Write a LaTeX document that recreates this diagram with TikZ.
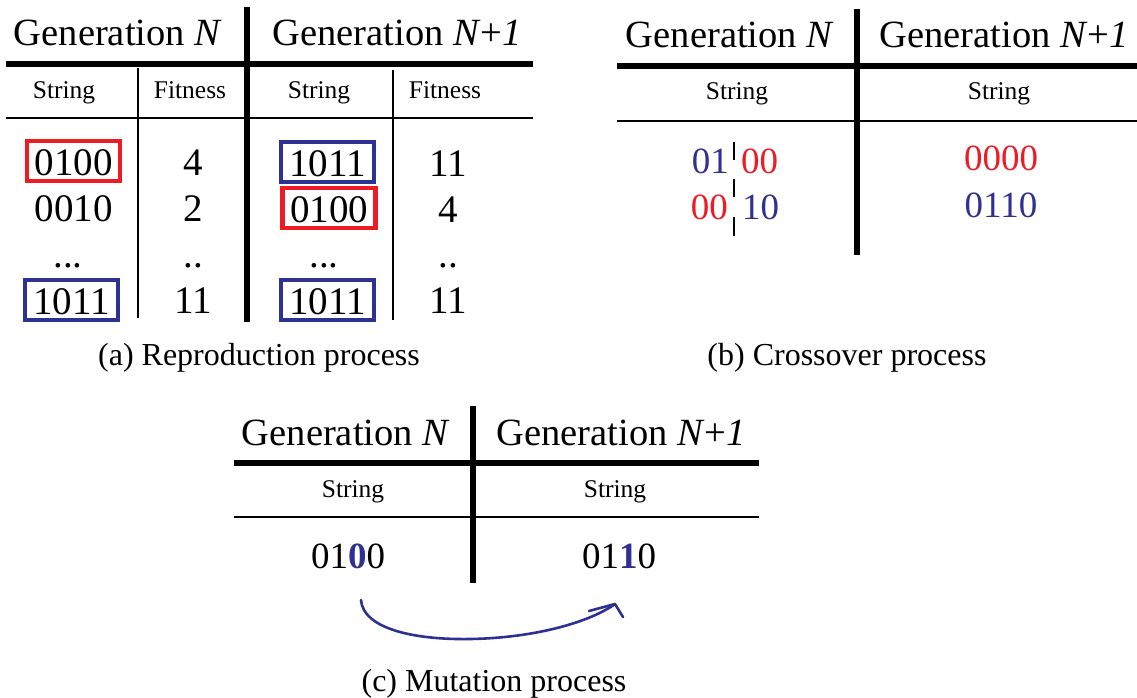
\documentclass[tikz,border=0pt]{standalone}
\usepackage{fontspec}
\setmainfont{Liberation Serif}
\definecolor{gared}{HTML}{ED1C24}
\definecolor{gablue}{HTML}{2E3192}
\newcommand{\genN}{Generation \textit{N}}
\newcommand{\genNp}{Generation \textit{N}+\textit{1}}
\begin{document}
\begin{tikzpicture}[x=1pt,y=-1pt,
  every node/.style={inner sep=0pt, anchor=base},
  hdr/.style={font=\fontsize{38.5}{40}\selectfont},
  colhead/.style={font=\fontsize{25.5}{27}\selectfont},
  bigval/.style={font=\fontsize{39}{40}\selectfont},
  val/.style={font=\fontsize{37}{38}\selectfont},
  caption/.style={font=\fontsize{32}{34}\selectfont},
  heavyrule/.style={line width=6pt},
  lightrule/.style={line width=2.6pt},
  cutmark/.style={line width=1.8pt},
  markbox/.style={draw, line width=4.5pt, minimum width=93pt, text height=28pt,
                  text depth=0pt, inner ysep=6pt, inner xsep=0pt},
  redbox/.style={markbox, draw=gared},
  bluebox/.style={markbox, draw=gablue},
  mutarrow/.style={draw=gablue, line width=2.6pt, line cap=round, line join=round},
]
\path[use as bounding box] (0,0) rectangle (1137,698);

% ---------------- (a) reproduction ----------------
\draw[heavyrule] (6,64) -- (533,64);
\draw[lightrule] (6,118) -- (533,118);
\draw[heavyrule] (246.5,7) -- (246.5,322);
\draw[lightrule] (138,68) -- (138,318);
\draw[lightrule] (393,70) -- (393,320);

\node[hdr] (aH1) at (118,46) {\genN};
\node[hdr] (aH2) at (397,46) {\genNp};
\node[colhead] (aS1) at (64,99) {String};
\node[colhead] (aF1) at (190,99) {Fitness};
\node[colhead] (aS2) at (319,99) {String};
\node[colhead] (aF2) at (445,99) {Fitness};

\node[bigval, redbox]  (aL1) at (73.5,175) {0100};
\node[bigval]          (aL2) at (73.5,221) {0010};
\node[bigval]          (aL3) at (68,267) {...};
\node[bigval, bluebox] (aL4) at (71.5,314) {1011};
\node[bigval] (aFL1) at (193,175) {4};
\node[bigval] (aFL2) at (193,221) {2};
\node[bigval] (aFL3) at (193,267) {..};
\node[bigval] (aFL4) at (193,313) {11};

\node[bigval, bluebox] (aR1) at (327.5,176) {1011};
\node[bigval, redbox]  (aR2) at (329,222) {0100};
\node[bigval]          (aR3) at (324,267) {...};
\node[bigval, bluebox] (aR4) at (327.5,314) {1011};
\node[bigval] (aFR1) at (448,176) {11};
\node[bigval] (aFR2) at (448,222) {4};
\node[bigval] (aFR3) at (448,267) {..};
\node[bigval] (aFR4) at (448,313) {11};

\node[caption] (capA) at (259,365) {(a) Reproduction process};

% ---------------- (b) crossover ----------------
\draw[heavyrule] (617,66) -- (1137,66);
\draw[lightrule] (617,121) -- (1137,121);
\draw[heavyrule] (857,9) -- (857,255);

\node[hdr] (bH1) at (730,48) {\genN};
\node[hdr] (bH2) at (1004,48) {\genNp};
\node[colhead] (bS1) at (737,100) {String};
\node[colhead] (bS2) at (999,100) {String};

\node[val, anchor=base east, text=gablue] (bA1) at (729,173) {01};
\node[val, anchor=base west, text=gared]  (bA2) at (741,173) {00};
\node[val, anchor=base east, text=gared]  (bB1) at (728,219) {00};
\node[val, anchor=base west, text=gablue] (bB2) at (742,219) {10};
\draw[cutmark] (734,142) -- (734,160);
\draw[cutmark] (734,179) -- (734,197);
\draw[cutmark] (734,217) -- (734,236);

\node[val, text=gared]  (bC1) at (1001,170) {0000};
\node[val, text=gablue] (bC2) at (1001,217) {0110};

\node[caption] (capB) at (847,365) {(b) Crossover process};

% ---------------- (c) mutation ----------------
\draw[heavyrule] (234,463) -- (759,463);
\draw[lightrule] (234,517) -- (759,517);
\draw[heavyrule] (473,406) -- (473,583);

\node[hdr] (cH1) at (346,445) {\genN};
\node[hdr] (cH2) at (621,445) {\genNp};
\node[colhead] (cS1) at (353,497) {String};
\node[colhead] (cS2) at (615,497) {String};

\node[val] (cV1) at (348,568) {01\textcolor{gablue}{\textbf{0}}0};
\node[val] (cV2) at (619,568) {01\textcolor{gablue}{\textbf{1}}0};

\coordinate (mStart) at (361,600);
\coordinate (mLow) at (470,639);
\coordinate (mTip) at (615,604);
\draw[mutarrow] (mStart) .. controls (363,628) and (412,640) .. (mLow)
                .. controls (535,638) and (590,622) .. (mTip);
\draw[mutarrow] (589,611) -- (mTip) -- (623,617);

\node[caption] (capC) at (494,691) {(c) Mutation process};
\end{tikzpicture}
\end{document}
